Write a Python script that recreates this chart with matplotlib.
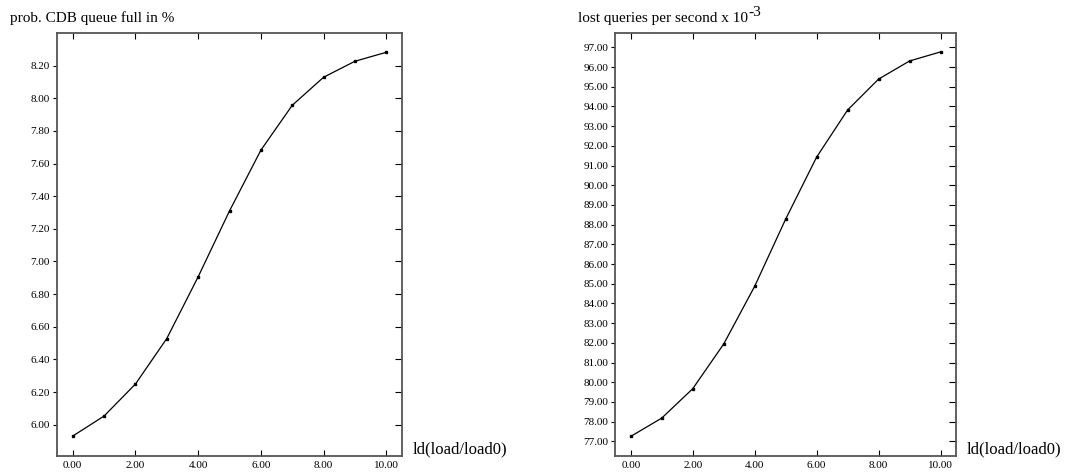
import numpy as np
import matplotlib
matplotlib.use('Agg')
import matplotlib.pyplot as plt

plt.rcParams['font.family'] = ['Liberation Serif', 'DejaVu Serif']

ld = [0, 1, 2, 3, 4, 5, 6, 7, 8, 9, 10]
prob_full = [5.93, 6.053, 6.249, 6.528, 6.906, 7.31, 7.682, 7.957, 8.129, 8.227, 8.282]
lost_queries = [77.25, 78.18, 79.67, 81.94, 84.87, 88.28, 91.43, 93.82, 95.39, 96.31, 96.77]

xticks = [0, 2, 4, 6, 8, 10]
yticks_left = [6.0, 6.2, 6.4, 6.6, 6.8, 7.0, 7.2, 7.4, 7.6, 7.8, 8.0, 8.2]
yticks_right = list(range(77, 98))

fig = plt.figure(figsize=(10.66, 4.73), dpi=100)
ax1 = fig.add_axes([0.0535, 0.0366, 0.3236, 0.8936])
ax2 = fig.add_axes([0.5772, 0.0366, 0.3196, 0.8936])


def style_axes(ax, yticks, ylim, title, title_x):
    ax.set_xlim(-0.5, 10.5)
    ax.set_ylim(*ylim)
    for sp in ax.spines.values():
        sp.set_color('#555555')
        sp.set_linewidth(1.3)
    ax.set_xticks(xticks)
    ax.set_xticklabels(['%.2f' % v for v in xticks])
    ax.set_yticks(yticks)
    ax.set_yticklabels(['%.2f' % v for v in yticks])
    ax.tick_params(axis='x', direction='in', top=True, length=4, width=0.8,
                   labelsize=8, pad=4)
    ax.tick_params(axis='y', direction='out', length=3, width=0.8,
                   labelsize=8, pad=2)
    # inward ticks on the right spine
    ax.tick_params(axis='y', which='major', right=True)
    for t in ax.yaxis.get_major_ticks():
        t.tick2line.set_marker(matplotlib.lines.TICKLEFT)
        t.tick2line.set_markersize(5)
    ax.text(1.03, 0.015, 'ld(load/load0)', transform=ax.transAxes,
            fontsize=12, ha='left', va='center')
    return ax.text(title_x, 1.018, title, transform=ax.transAxes,
                   fontsize=11, ha='left', va='bottom')


ax1.plot(ld, prob_full, color='black', linewidth=0.9, marker='s', markersize=1.7)
style_axes(ax1, yticks_left, (5.81, 8.40), 'prob. CDB queue full in %', -0.136)

ax2.plot(ld, lost_queries, color='black', linewidth=0.9, marker='s', markersize=1.7)
t2 = style_axes(ax2, yticks_right, (76.27, 97.73), 'lost queries per second x 10', -0.109)
ax2.annotate('-3', xy=(1, 1), xycoords=t2, xytext=(0.5, -5), textcoords='offset points',
             fontsize=11, ha='left', va='bottom', annotation_clip=False)

fig.savefig('out.png', dpi=100)
